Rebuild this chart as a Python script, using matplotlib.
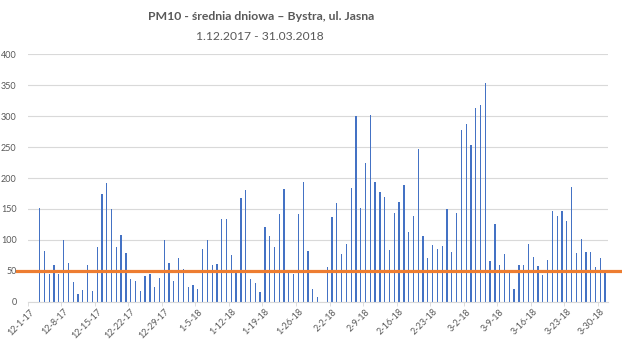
import numpy as np
import pandas as pd
import matplotlib
matplotlib.use("Agg")
import matplotlib.pyplot as plt

plt.rcParams['font.family'] = ['Lato', 'DejaVu Sans']

# daily PM10 means, 1.12.2017 - 31.03.2018 (None = no data)
grudzien = [None, None, 152, 82, 45, 59, 44, 100, 63, 32, 12, 19, 59, 18, 88, 174, 192,
            150, 89, 108, 79, 37, 34, 18, 42, 45, 23, 38, 100, 63, 33]
styczen = [71, 53, 24, 27, 20, 85, 100, 59, 61, 133, 134, 75, 46, 167, 181, 37, 31, 16,
           120, 107, 89, 142, 182, 50, 45, 142, 193, 82, 20, 8, None]
luty = [56, 137, 160, 77, 93, 184, 300, 152, 224, 302, 194, 177, 170, 83, 143, 161, 188,
        113, 139, 247, 106, 70, 91, 86, 90, 150, 80, 143]
marzec = [277, 287, 253, 314, 318, 353, 66, 126, 59, 77, 46, 20, 59, 60, 94, 72, 58, 43,
          68, 147, 139, 147, 130, 185, 78, 102, 81, 81, 56, 70, 50]

norma = 50
dni = pd.date_range('2017-12-01', '2018-03-31', freq='D')
wartosci = np.array([np.nan if v is None else v for v in grudzien + styczen + luty + marzec], dtype=float)

fig = plt.figure(figsize=(6.22, 3.44), dpi=100)
ax = fig.add_axes([0.0445, 0.123, 0.933, 0.719])

x = np.arange(len(dni))
ax.bar(x, np.nan_to_num(wartosci), width=0.27, color='#4472C4', zorder=2)

ax.set_xlim(-0.5, len(dni) - 0.5 + 0.1)
ax.set_ylim(0, 400)
ax.set_yticks(np.arange(0, 401, 50))
ax.grid(axis='y', color='#D9D9D9', linewidth=0.8, zorder=0)

# tick labels every week
pos = x[::7]
ax.set_xticks(pos)
ax.set_xticklabels([f"{d.month}-{d.day}-{d.strftime('%y')}" for d in dni[::7]],
                   rotation=45, ha='right', rotation_mode='anchor')
ax.set_xticks(pos - 0.5, minor=True)
ax.tick_params(axis='x', which='major', length=0, pad=4, labelsize=6.5, labelcolor='#595959')
ax.tick_params(axis='x', which='minor', length=3, color='#D9D9D9')
ax.tick_params(axis='y', length=0, pad=8, labelsize=6.5, labelcolor='#595959')

for s in ['top', 'right', 'left']:
    ax.spines[s].set_visible(False)
ax.spines['bottom'].set_color('#D9D9D9')

# limit line (drawn past the plot area)
ax.axhline(norma, xmin=-0.019, xmax=1.03, color='#ED7D31', linewidth=2.3, clip_on=False, zorder=3)

fig.text(0.4196, 0.952, 'PM10 - średnia dniowa – Bystra, ul. Jasna', ha='center', va='center',
         fontsize=8.8, fontweight='bold', color='#595959')
fig.text(0.4172, 0.893, '1.12.2017 - 31.03.2018', ha='center', va='center',
         fontsize=8.7, color='#595959')

fig.savefig('out.png', dpi=100)
